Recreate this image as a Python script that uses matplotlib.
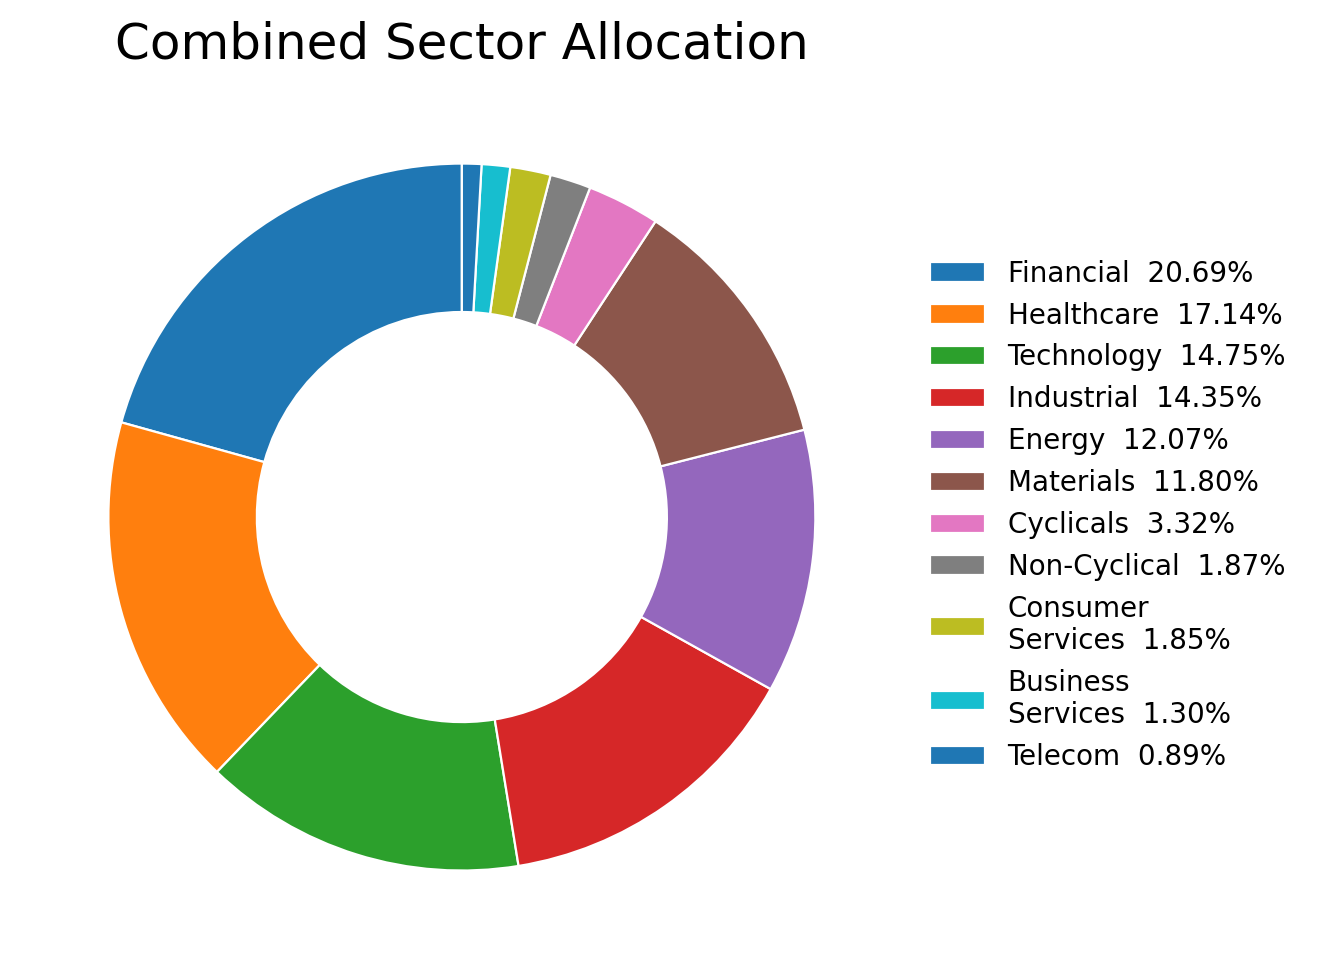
import matplotlib
matplotlib.use('Agg')
import matplotlib.pyplot as plt

sectors = ['Financial', 'Healthcare', 'Technology', 'Industrial', 'Energy', 'Materials',
           'Cyclicals', 'Non-Cyclical', 'Consumer\nServices', 'Business\nServices', 'Telecom']
weights = [20.69, 17.14, 14.75, 14.35, 12.07, 11.80, 3.32, 1.87, 1.85, 1.30, 0.89]

colors = [plt.cm.tab10(i % 10) for i in range(len(sectors))]
labels = [f'{s}  {w:.2f}%' for s, w in zip(sectors, weights)]

fig = plt.figure(figsize=(6.585, 4.9), dpi=200)
ax = fig.add_axes([0.0152, 0.0214, 0.671, 0.902])
wedges, _ = ax.pie(weights, colors=colors, startangle=90, counterclock=True,
                   wedgeprops=dict(width=0.42, edgecolor='white', linewidth=0.8))
ax.set_aspect('equal')
ax.set_title('Combined Sector Allocation', fontsize=18)

fig.legend(wedges, labels, loc='center left', bbox_to_anchor=(0.687, 0.474),
           frameon=False, fontsize=10)

fig.savefig('out.png', dpi=200)
